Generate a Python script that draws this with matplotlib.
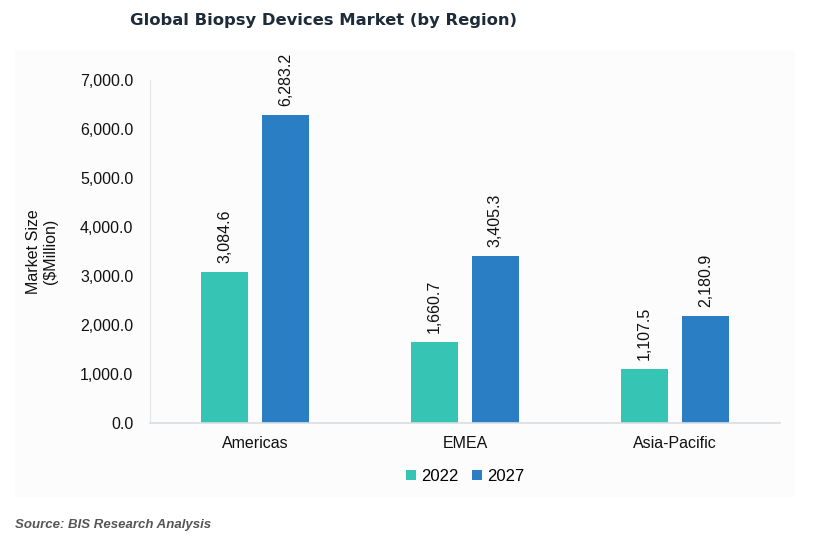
import numpy as np
import matplotlib.pyplot as plt
from matplotlib.patches import Rectangle

regions = ["Americas", "EMEA", "Asia-Pacific"]
years = ["2022", "2027"]
size_2022 = [3084.6, 1660.7, 1107.5]
size_2027 = [6283.2, 3405.3, 2180.9]
colors = ["#36C5B5", "#2A7EC3"]

plt.rcParams["font.family"] = ["Liberation Sans", "DejaVu Sans"]

fig = plt.figure(figsize=(8.22, 5.53), dpi=100)
bg = Rectangle((15 / 822, 1 - 497 / 553), 780 / 822, 447 / 553,
               transform=fig.transFigure, facecolor="#FCFCFC",
               edgecolor="none", zorder=-5)
fig.add_artist(bg)

ax = fig.add_axes([150 / 822, 1 - 423 / 553, 630 / 822, 343 / 553])
ax.set_facecolor("none")
ax.set_zorder(1)

x = np.arange(len(regions))
w = 0.224
off = 0.145
for vals, dx, c, lab in [(size_2022, -off, colors[0], years[0]),
                         (size_2027, off, colors[1], years[1])]:
    bars = ax.bar(x + dx, vals, w, color=c, label=lab, zorder=2)
    for b, v in zip(bars, vals):
        ax.text(b.get_x() + b.get_width() / 2, v + 180, f"{v:,.1f}",
                rotation=90, ha="center", va="bottom", fontsize=11.5, color="#111111")

ax.set_xlim(-0.5, 2.5)
ax.set_ylim(0, 7000)
ax.set_yticks(np.arange(0, 7001, 1000))
ax.set_yticklabels([f"{v:,.1f}" for v in np.arange(0, 7001, 1000)])
ax.set_xticks(x)
ax.set_xticklabels(regions)
ax.tick_params(axis="both", length=0, labelsize=11.5, colors="#111111")
ax.tick_params(axis="y", pad=12)
ax.tick_params(axis="x", pad=9)
for s in ["top", "right"]:
    ax.spines[s].set_visible(False)
ax.spines["left"].set_color("#E3E6E8")
ax.spines["bottom"].set_color("#DADDE0")
ax.spines["bottom"].set_linewidth(1.2)

ax.set_ylabel("Market Size\n($Million)", fontsize=11.5, color="#111111", labelpad=16,
              linespacing=1.15)

ax.legend(loc="upper center", bbox_to_anchor=(0.5, -0.09), ncol=2, frameon=False,
          fontsize=12, handlelength=0.6, handleheight=0.6, handletextpad=0.3,
          columnspacing=0.8)

fig.text(130 / 822, 1 - 21 / 553, "Global Biopsy Devices Market (by Region)",
         fontsize=11.8, fontweight="bold", color="#1E2B38", va="center", ha="left",
         family="DejaVu Sans")
fig.text(15 / 822, 1 - 525 / 553, "Source: BIS Research Analysis", fontsize=9.5,
         fontweight="bold", fontstyle="italic", color="#555555", va="center", ha="left")

fig.savefig("out.png", dpi=100)
